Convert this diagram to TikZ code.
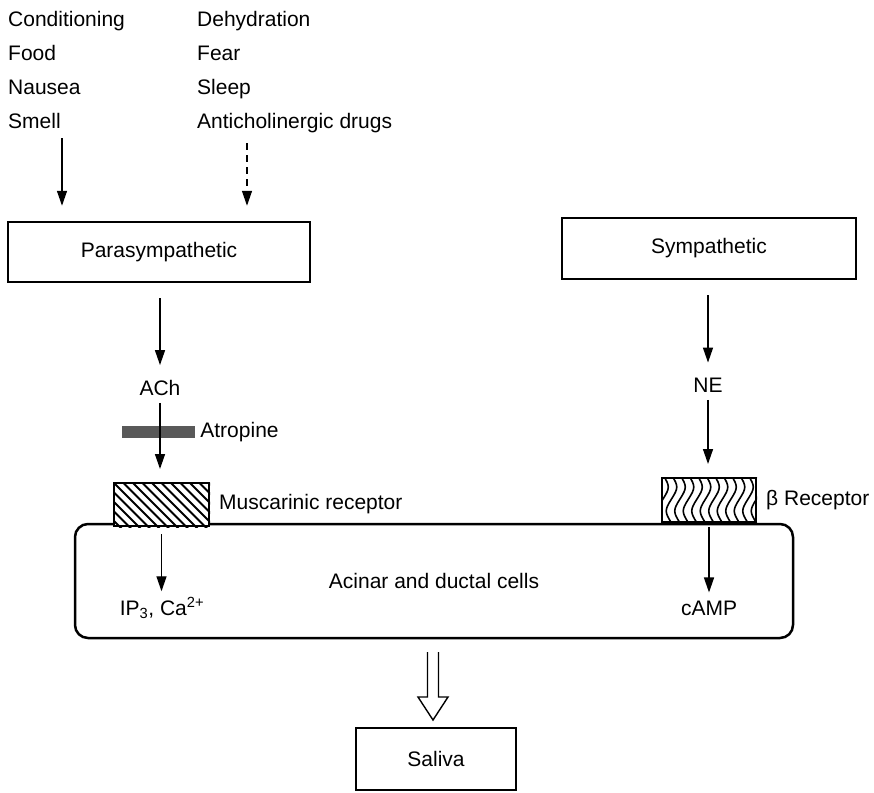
\documentclass[tikz,border=0pt]{standalone}
\usepackage{fontspec}
\setmainfont{Liberation Sans}
\usetikzlibrary{arrows.meta}

\begin{document}
\begin{tikzpicture}[x=1pt,y=-1pt,
  every node/.style={font=\fontsize{21}{25}\selectfont,inner sep=0pt},
  flow/.style={line width=1.4pt,-{Triangle[length=15pt,width=10pt]}},
  nbox/.style={draw,line width=2.5pt,minimum width=#1,minimum height=60pt},
  receptor/.style={draw,fill=white,line width=2pt}]
  \useasboundingbox (0,0) rectangle (874,792);
  \node[anchor=base west] (c1) at (8,27) {Conditioning};
  \node[anchor=base west] (c2) at (8,60) {Food};
  \node[anchor=base west] (c3) at (8,94) {Nausea};
  \node[anchor=base west] (c4) at (8,128) {Smell};
  \node[anchor=base west] (d1) at (197,27) {Dehydration};
  \node[anchor=base west] (d2) at (197,60) {Fear};
  \node[anchor=base west] (d3) at (197,94) {Sleep};
  \node[anchor=base west] (d4) at (197,128) {Anticholinergic drugs};
  \node[nbox=302pt] (para) at (159,252) {Parasympathetic};
  \node[nbox=294pt,minimum height=61pt] (symp) at (709,248.5) {Sympathetic};
  \coordinate (s1) at (62,138);
  \coordinate (s2) at (247,143);
  \draw[flow,shorten >=15pt] (s1) -- (s1 |- para.north);
  \draw[flow,dash pattern=on 7pt off 5pt,shorten >=15pt] (s2) -- (s2 |- para.north);
  \node (ach) at (160,388) {ACh};
  \node (ne) at (708,385) {NE};
  \draw[flow,shorten <=15pt,shorten >=15pt] (para.south -| ach) -- (ach);
  \draw[flow,shorten <=15pt,shorten >=15pt] (symp.south -| ne) -- (ne);
  \node[draw,line width=2.5pt,rounded corners=13pt,minimum width=718pt,
    minimum height=114pt] (cells) at (434,581) {Acinar and ductal cells};
  \node[receptor,minimum width=95pt,minimum height=43pt] (musc) at (161.5,504.5) {};
  \node[receptor,minimum width=94pt,minimum height=44pt] (beta) at (709,500) {};
  \begin{scope}
    \clip (musc.south west) rectangle (musc.north east);
    \foreach \k in {-5,...,10}
      \draw[line width=1.8pt,shift={(musc.north west)}] (\k*9.5,0) -- ++(50,50);
  \end{scope}
  \begin{scope}
    \clip (beta.south west) rectangle (beta.north east);
    \foreach \k in {0,...,11}
      \draw[line width=1.6pt,shift={(beta.north west)}]
        (\k*8.5+2,-2) .. controls (\k*8.5+9,9) and (\k*8.5+9,11) .. (\k*8.5+2,22)
        .. controls (\k*8.5-5,33) and (\k*8.5-5,35) .. (\k*8.5+2,46);
  \end{scope}
  \node[anchor=west] (musclab) at ([xshift=9pt]musc.east) {Muscarinic receptor};
  \node[anchor=west] (betalab) at ([xshift=9pt]beta.east) {β Receptor};
  \node[fill=black!65,minimum width=73pt,minimum height=12pt] (atr) at (158.5,432) {};
  \node[anchor=west] (atrlab) at ([xshift=5pt]atr.east) {Atropine};
  \draw[flow,shorten <=7pt,shorten >=13pt] (ach) -- (ach |- musc.north);
  \draw[flow,shorten <=7.5pt,shorten >=13pt] (ne) -- (ne |- beta.north);
  \node (ip3) at (162,608) {IP\textsubscript{3}, Ca\textsuperscript{2+}};
  \node (camp) at (709,608) {cAMP};
  \draw[flow,shorten <=7pt,shorten >=6pt] (musc.south) -- (musc.south |- ip3.north);
  \draw[flow,shorten <=4pt,shorten >=8pt] (beta.south) -- (beta.south |- camp.north);
  \node[nbox=160pt,minimum height=62pt] (saliva) at (436,759) {Saliva};
  \coordinate (out) at (433,652);
  \draw[line width=1.4pt,shift={(out)}] (-5.5,0) -- (-5.5,45) -- (-15,45) -- (0,68)
    -- (15,45) -- (5.5,45) -- (5.5,0);
\end{tikzpicture}
\end{document}
